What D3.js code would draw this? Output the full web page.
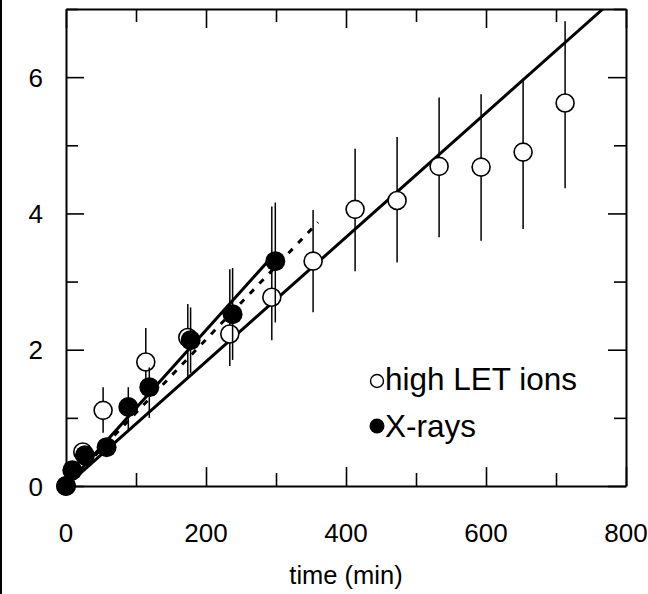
<!DOCTYPE html>
<html>
<head>
<meta charset="utf-8">
<script src="https://cdn.jsdelivr.net/npm/d3@7"></script>
<style>
  html, body { margin: 0; padding: 0; background: #fff; }
  svg { display: block; }
  text { font-family: "Liberation Sans", Arial, Helvetica, sans-serif; fill: #000; }
</style>
</head>
<body>
<script>
// ---- data ----
const ionTime  = [0, 24, 53, 114, 174, 234, 294, 353, 413, 473, 533, 593, 653, 713];
const ionValue = [0, 0.50, 1.11, 1.82, 2.18, 2.23, 2.77, 3.30, 4.06, 4.19, 4.69, 4.68, 4.90, 5.62];
const ionLow   = [0, 0.50, 0.78, 1.32, 1.60, 1.76, 2.14, 2.55, 3.15, 3.28, 3.65, 3.60, 3.77, 4.37];
const ionHigh  = [0, 0.50, 1.45, 2.32, 2.67, 3.18, 4.10, 4.05, 4.95, 5.12, 5.70, 5.75, 5.98, 6.82];

const xrayTime  = [0, 9, 27, 58, 89, 119, 178, 238, 299];
const xrayValue = [0, 0.23, 0.45, 0.57, 1.16, 1.45, 2.14, 2.52, 3.30];
const xrayLow   = [0, 0.23, 0.45, 0.57, 0.82, 1.00, 1.66, 1.85, 2.40];
const xrayHigh  = [0, 0.23, 0.45, 0.57, 1.45, 1.74, 2.62, 3.20, 4.16];

// fitted lines [time, value]
const ionFit    = [[0, 0], [767, 7]];
const xrayFit   = [[0, 0], [293, 3.35]];
const xrayDash  = [[0, 0], [360, 3.87]];

const xTicks = [0, 200, 400, 600, 800];
const yTicks = [0, 2, 4, 6];
const xTitle = "time (min)";
const legendLabels = ["high LET ions", "X-rays"];

// ---- layout ----
const W = 648, H = 594;
const svg = d3.select("body").append("svg").attr("width", W).attr("height", H);

const x = d3.scaleLinear().domain([0, 800]).range([66, 626]);
const y = d3.scaleLinear().domain([0, 7]).range([486, 9]);

// stray left border line of the original figure
svg.append("line").attr("x1", 1).attr("x2", 1).attr("y1", 0).attr("y2", H)
  .attr("stroke", "#000").attr("stroke-width", 2);

svg.append("clipPath").attr("id", "clip").append("rect")
  .attr("x", 66).attr("y", 9).attr("width", 560).attr("height", 477);

// axes with major/minor ticks on all four sides
const xMinor = d3.range(0, 801, 100);
const yMinor = d3.range(0, 8, 1);
function tickLenX(v) { return v % 200 === 0 ? 19 : 13; }
function tickLenY(v) { return v % 2 === 0 ? 18 : 12; }

const axB = svg.append("g").attr("transform", "translate(0,486)")
  .call(d3.axisBottom(x).tickValues(xMinor).tickSize(0).tickFormat(""));
const axT = svg.append("g").attr("transform", "translate(0,9)")
  .call(d3.axisTop(x).tickValues(xMinor).tickSize(0).tickFormat(""));
const axL = svg.append("g").attr("transform", "translate(66,0)")
  .call(d3.axisLeft(y).tickValues(yMinor).tickSize(0).tickFormat(""));
const axR = svg.append("g").attr("transform", "translate(626,0)")
  .call(d3.axisRight(y).tickValues(yMinor).tickSize(0).tickFormat(""));
[axB, axT, axL, axR].forEach(a => {
  a.select(".domain").attr("stroke", "#000").attr("stroke-width", 2);
});
axB.selectAll(".tick line").attr("y2", d => -tickLenX(d)).attr("stroke", "#000").attr("stroke-width", 1.6);
axT.selectAll(".tick line").attr("y2", d => tickLenX(d)).attr("stroke", "#000").attr("stroke-width", 1.6);
axL.selectAll(".tick line").attr("x2", d => tickLenY(d)).attr("stroke", "#000").attr("stroke-width", 1.6);
axR.selectAll(".tick line").attr("x2", d => -tickLenY(d)).attr("stroke", "#000").attr("stroke-width", 1.6);

// tick labels
svg.append("g").selectAll("text").data(xTicks).join("text")
  .attr("x", d => x(d)).attr("y", 542).attr("text-anchor", "middle")
  .attr("font-size", 26).text(d => d);
svg.append("g").selectAll("text").data(yTicks).join("text")
  .attr("x", 43).attr("y", d => y(d) + 9.5).attr("text-anchor", "end")
  .attr("font-size", 26).text(d => d);

svg.append("text").attr("x", 346).attr("y", 584).attr("text-anchor", "middle")
  .attr("font-size", 25.5).text(xTitle);

// fit lines
const plot = svg.append("g").attr("clip-path", "url(#clip)");
const line = d3.line().x(d => x(d[0])).y(d => y(d[1]));
plot.append("path").attr("d", line(ionFit)).attr("fill", "none")
  .attr("stroke", "#000").attr("stroke-width", 3);
plot.append("path").attr("d", line(xrayFit)).attr("fill", "none")
  .attr("stroke", "#000").attr("stroke-width", 3);
plot.append("path").attr("d", line(xrayDash)).attr("fill", "none")
  .attr("stroke", "#000").attr("stroke-width", 3).attr("stroke-dasharray", "6,8");

// data
const ions = ionTime.map((t, i) => ({t, v: ionValue[i], lo: ionLow[i], hi: ionHigh[i]}));
const xrays = xrayTime.map((t, i) => ({t, v: xrayValue[i], lo: xrayLow[i], hi: xrayHigh[i]}));

svg.append("g").selectAll("line").data(ions.filter(d => d.hi > d.lo)).join("line")
  .attr("x1", d => x(d.t)).attr("x2", d => x(d.t))
  .attr("y1", d => y(d.lo)).attr("y2", d => y(d.hi))
  .attr("stroke", "#000").attr("stroke-width", 1.5);
svg.append("g").selectAll("circle").data(ions).join("circle")
  .attr("cx", d => x(d.t)).attr("cy", d => y(d.v)).attr("r", 9)
  .attr("fill", "#fff").attr("stroke", "#000").attr("stroke-width", 1.6);

svg.append("g").selectAll("line").data(xrays.filter(d => d.hi > d.lo)).join("line")
  .attr("x1", d => x(d.t)).attr("x2", d => x(d.t))
  .attr("y1", d => y(d.lo)).attr("y2", d => y(d.hi))
  .attr("stroke", "#000").attr("stroke-width", 1.5);
svg.append("g").selectAll("circle").data(xrays).join("circle")
  .attr("cx", d => x(d.t)).attr("cy", d => y(d.v)).attr("r", 10)
  .attr("fill", "#000");

// legend
const lg = svg.append("g");
lg.append("circle").attr("cx", 377).attr("cy", 381).attr("r", 6.5)
  .attr("fill", "#fff").attr("stroke", "#000").attr("stroke-width", 1.4);
lg.append("circle").attr("cx", 377).attr("cy", 426).attr("r", 7.5).attr("fill", "#000");
lg.append("text").attr("x", 385).attr("y", 390).attr("font-size", 31.5).text(legendLabels[0]);
lg.append("text").attr("x", 385).attr("y", 437).attr("font-size", 31.5).text(legendLabels[1]);
</script>
</body>
</html>
